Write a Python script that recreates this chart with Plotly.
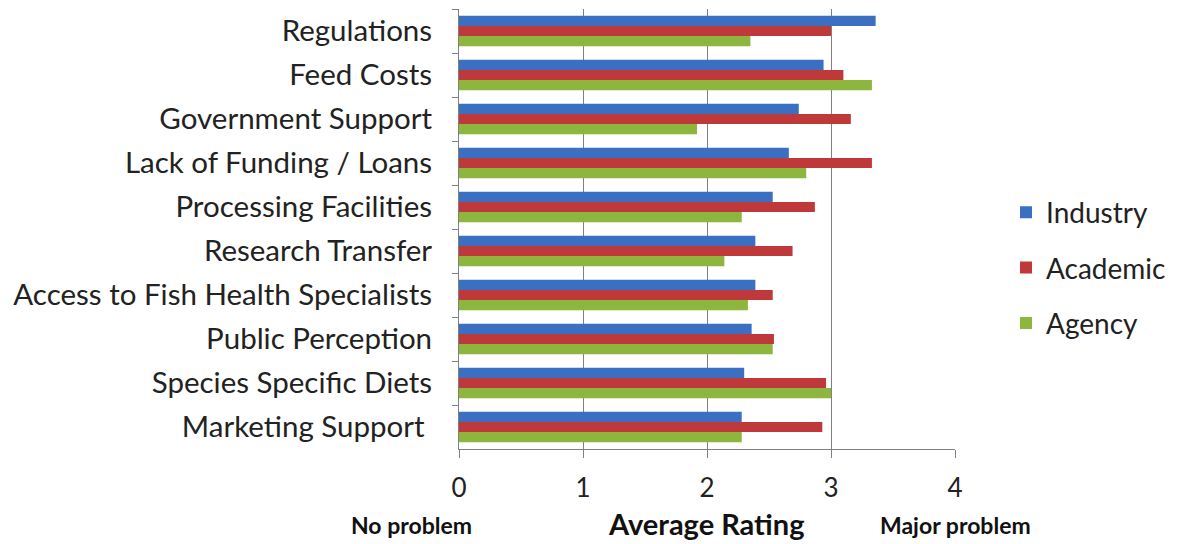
import plotly.graph_objects as go

categories = ["Regulations", "Feed Costs", "Government Support", "Lack of Funding / Loans",
              "Processing Facilities", "Research Transfer", "Access to Fish Health Specialists",
              "Public Perception", "Species Specific Diets", "Marketing Support\u00a0"]
industry = [3.36, 2.94, 2.74, 2.66, 2.53, 2.39, 2.39, 2.36, 2.30, 2.28]
academic = [3.00, 3.10, 3.16, 3.33, 2.87, 2.69, 2.53, 2.54, 2.96, 2.93]
agency = [2.35, 3.33, 1.92, 2.80, 2.28, 2.14, 2.33, 2.53, 3.00, 2.28]
series_names = ["Industry", "Academic", "Agency"]
colors = ["#3B6FC2", "#C0393A", "#8DB63F"]
x_ticks = [0, 1, 2, 3, 4]

FONT = "Lato, 'Open Sans', sans-serif"

# page offset (body margin) compensation
OFF = 8
plot_l, plot_r, plot_t, plot_b = 459, 955, 9, 449   # screen pixels
W, H = 1181, 544

fig = go.Figure()
for name, vals, col in zip(series_names, [industry, academic, agency], colors):
    fig.add_trace(go.Bar(
        y=categories, x=vals, name=name, orientation="h",
        marker=dict(color=col, line=dict(width=0)),
        legendgroup=name,
    ))

def px_to_paper(px, py):
    return (px - plot_l) / (plot_r - plot_l), (plot_b - py) / (plot_b - plot_t)

lx, ly = px_to_paper(1006, 268)

fig.update_layout(
    width=W, height=H,
    margin=dict(l=plot_l - OFF, r=W + OFF - plot_r, t=plot_t - OFF, b=H + OFF - plot_b),
    paper_bgcolor="white", plot_bgcolor="white",
    barmode="group", bargap=0.31, bargroupgap=0,
    font=dict(family=FONT, color="#222222"),
    legend=dict(
        x=lx, y=ly, xanchor="left", yanchor="middle",
        font=dict(size=28, family=FONT, color="#222222"),
        traceorder="grouped", tracegroupgap=16,
        itemwidth=30,
    ),
    xaxis=dict(
        range=[0, 4], tickvals=x_ticks, ticktext=[str(t) for t in x_ticks],
        showgrid=True, gridcolor="#808080", gridwidth=1,
        zeroline=False, showline=True, linecolor="#808080", linewidth=1,
        ticks="outside", ticklen=8, tickcolor="#808080",
        tickfont=dict(size=26, family=FONT, color="#222222"),
        ticklabelstandoff=8,
        fixedrange=True,
    ),
    yaxis=dict(
        autorange="reversed", type="category",
        showline=True, linecolor="#808080", linewidth=1,
        ticks="outside", ticklen=6, tickcolor="#808080", tickson="boundaries",
        showgrid=False,
        tickfont=dict(size=29.5, family=FONT, color="#222222"),
        ticklabelstandoff=20,
    ),
)

ann_specs = [("No problem", 411, 525, 23),
             ("Average Rating", 706, 523, 29),
             ("Major problem", 955, 525, 23)]
anns = []
for text, px, py, size in ann_specs:
    ax, ay = px_to_paper(px, py)
    anns.append(dict(text=f"<b>{text}</b>", x=ax, y=ay, xref="paper", yref="paper",
                     showarrow=False, xanchor="center", yanchor="middle",
                     font=dict(size=size, family=FONT, color="#111111")))
fig.update_layout(annotations=anns)

fig.write_html("out.html")
